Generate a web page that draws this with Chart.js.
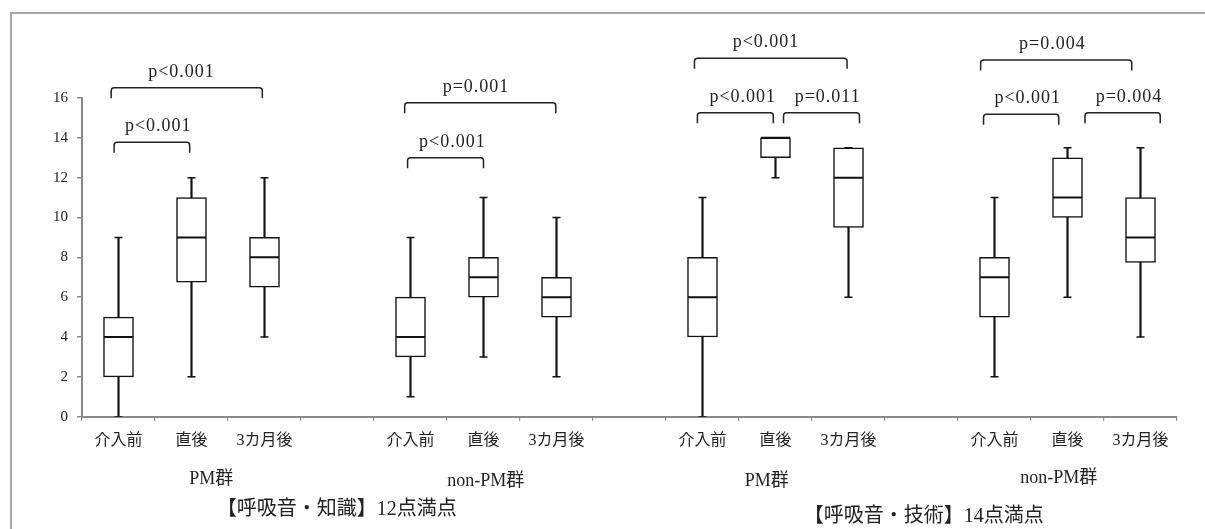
<!DOCTYPE html>
<html>
<head>
<meta charset="utf-8">
<script src="https://cdn.jsdelivr.net/npm/chart.js@4.4.1/dist/chart.umd.min.js"></script>
<style>
  html, body { margin: 0; padding: 0; background: #fff; overflow: hidden; }
  #wrap { position: relative; width: 1205px; height: 529px; }
  #frame { position: absolute; left: 10px; top: 12px; width: 1300px; height: 600px;
           border-left: 2px solid #a8a8a8; border-top: 2px solid #a8a8a8; box-sizing: border-box; }
  canvas { position: absolute; left: 0; top: 0; }
</style>
</head>
<body>
<div id="wrap">
  <div id="frame"></div>
  <canvas id="c" width="1205" height="529"></canvas>
</div>
<script>
// ---- data ----
const categories = ['介入前','直後','3カ月後','','介入前','直後','3カ月後','','介入前','直後','3カ月後','','介入前','直後','3カ月後'];
const whiskerLow  = [0, 2,    4,   null, 1, 3, 2,  null, 0,  12, 6,    null, 2,  6,    4];
const quartile1   = [2, 6.75, 6.5, null, 3, 6, 5,  null, 4,  13, 9.5,  null, 5,  10,   7.75];
const medianVals  = [4, 9,    8,   null, 4, 7, 6,  null, 6,  14, 12,   null, 7,  11,   9];
const quartile3   = [5, 11,   9,   null, 6, 8, 7,  null, 8,  14, 13.5, null, 8,  13,   11];
const whiskerHigh = [9, 12,   12,  null, 9, 11, 10, null, 11, 14, 13.5, null, 11, 13.5, 13.5];
const yTicksMin = 0, yTicksMax = 16, yTicksStep = 2;

// significance brackets (category index span, level in score units, label)
const bracketFrom  = [-0.06, -0.10, 3.96, 3.92, 7.93, 9.11, 7.89, 11.85, 13.24, 11.81];
const bracketTo    = [0.975, 1.97, 5.0, 5.99, 8.97, 10.15, 9.98, 12.88, 14.27, 13.88];
const bracketLevel = [13.78, 16.52, 13.0, 15.76, 15.26, 15.26, 17.99, 15.18, 15.26, 17.91];
const pLabels      = ['p<0.001','p<0.001','p<0.001','p=0.001','p<0.001','p=0.011','p<0.001','p<0.001','p=0.004','p=0.004'];
const pLabelAt     = [0.545, 0.863, 4.573, 4.897, 8.551, 9.715, 8.870, 12.455, 13.842, 12.792];

// group captions and panel titles
const groupLabels = ['PM群','non-PM群','PM群','non-PM群'];
const groupLabelAt = [1.27, 5.03, 8.88, 12.88];
const groupLabelDrop = [62.3, 65, 65, 61.6];
const panelTitles = ['【呼吸音・知識】12点満点','【呼吸音・技術】14点満点'];
const panelTitleAt = [2.99, 11.03];
const panelTitleDrop = [93.3, 100];

// ---- build ----
const boxData = quartile1.map((q, i) => q == null ? null : [q, quartile3[i]]);
const whiskerData = whiskerLow.map((lo, i) => lo == null ? null : [lo, whiskerHigh[i]]);

const SERIF = '"Liberation Serif", "Noto Sans CJK JP", serif';
const INK = '#111';

const annotate = {
  id: 'annotate',
  afterDraw(chart) {
    const { ctx, scales: { x, y }, chartArea } = chart;
    ctx.save();
    // brackets
    ctx.strokeStyle = '#222';
    ctx.lineWidth = 1.5;
    const leg = 10.5, r = 3;
    for (let i = 0; i < bracketFrom.length; i++) {
      const x1 = x.getPixelForValue(bracketFrom[i]);
      const x2 = x.getPixelForValue(bracketTo[i]);
      const yt = y.getPixelForValue(bracketLevel[i]);
      ctx.beginPath();
      ctx.moveTo(x1, yt + leg);
      ctx.lineTo(x1, yt + r);
      ctx.quadraticCurveTo(x1, yt, x1 + r, yt);
      ctx.lineTo(x2 - r, yt);
      ctx.quadraticCurveTo(x2, yt, x2, yt + r);
      ctx.lineTo(x2, yt + leg);
      ctx.stroke();
      // label
      ctx.fillStyle = '#222';
      ctx.font = '18px ' + SERIF;
      if ('letterSpacing' in ctx) ctx.letterSpacing = '1px';
      ctx.textAlign = 'center';
      ctx.textBaseline = 'alphabetic';
      ctx.fillText(pLabels[i], x.getPixelForValue(pLabelAt[i]), yt - 11);
    }
    if ('letterSpacing' in ctx) ctx.letterSpacing = '0px';
    // group captions
    ctx.fillStyle = '#222';
    ctx.textAlign = 'center';
    ctx.textBaseline = 'middle';
    ctx.font = '18px ' + SERIF;
    groupLabels.forEach((t, i) => {
      ctx.fillText(t, x.getPixelForValue(groupLabelAt[i]), chartArea.bottom + groupLabelDrop[i]);
    });
    ctx.font = '20px ' + SERIF;
    panelTitles.forEach((t, i) => {
      ctx.fillText(t, x.getPixelForValue(panelTitleAt[i]), chartArea.bottom + panelTitleDrop[i]);
    });
    ctx.restore();
  }
};

new Chart(document.getElementById('c'), {
  type: 'bar',
  data: {
    labels: categories,
    datasets: [
      { type: 'line', data: medianVals, showLine: false, pointStyle: 'line',
        pointRadius: 14.5, pointHoverRadius: 14.5, pointBorderWidth: 2, pointBorderColor: INK, order: 0 },
      { type: 'line', data: whiskerHigh, showLine: false, pointStyle: 'line',
        pointRadius: 4, pointHoverRadius: 4, pointBorderWidth: 1.5, pointBorderColor: INK, order: 1 },
      { type: 'line', data: whiskerLow, showLine: false, pointStyle: 'line',
        pointRadius: 4, pointHoverRadius: 4, pointBorderWidth: 1.5, pointBorderColor: INK, order: 1 },
      { type: 'bar', data: boxData, grouped: false, barThickness: 30, backgroundColor: '#fff',
        borderColor: INK, borderWidth: 1.5, borderSkipped: false, order: 2 },
      { type: 'bar', data: whiskerData, grouped: false, barThickness: 1.5, backgroundColor: INK,
        borderWidth: 0, order: 3 }
    ]
  },
  options: {
    responsive: false,
    animation: false,
    events: [],
    layout: { padding: { left: 10, right: 28, top: 98, bottom: 0 } },
    plugins: { legend: { display: false }, tooltip: { enabled: false } },
    scales: {
      x: {
        offset: true,
        grid: { offset: true, drawOnChartArea: false, drawTicks: true, tickLength: 4, color: '#8a8a8a', lineWidth: 1.2 },
        border: { display: true, color: '#8a8a8a', width: 2 },
        ticks: { autoSkip: false, maxRotation: 0, minRotation: 0, padding: 10, color: '#222',
                 font: { family: SERIF, size: 16 } },
        afterFit(scale) { scale.height = 112.3; }
      },
      y: {
        min: yTicksMin, max: yTicksMax,
        grid: { drawOnChartArea: false, drawTicks: true, tickLength: 5, color: '#8a8a8a', lineWidth: 1.5 },
        border: { display: true, color: '#8a8a8a', width: 2 },
        ticks: { stepSize: yTicksStep, padding: 9, color: '#222', font: { family: SERIF, size: 15 } },
        afterFit(scale) { scale.width = 72; }
      }
    }
  },
  plugins: [annotate]
});
</script>
</body>
</html>
